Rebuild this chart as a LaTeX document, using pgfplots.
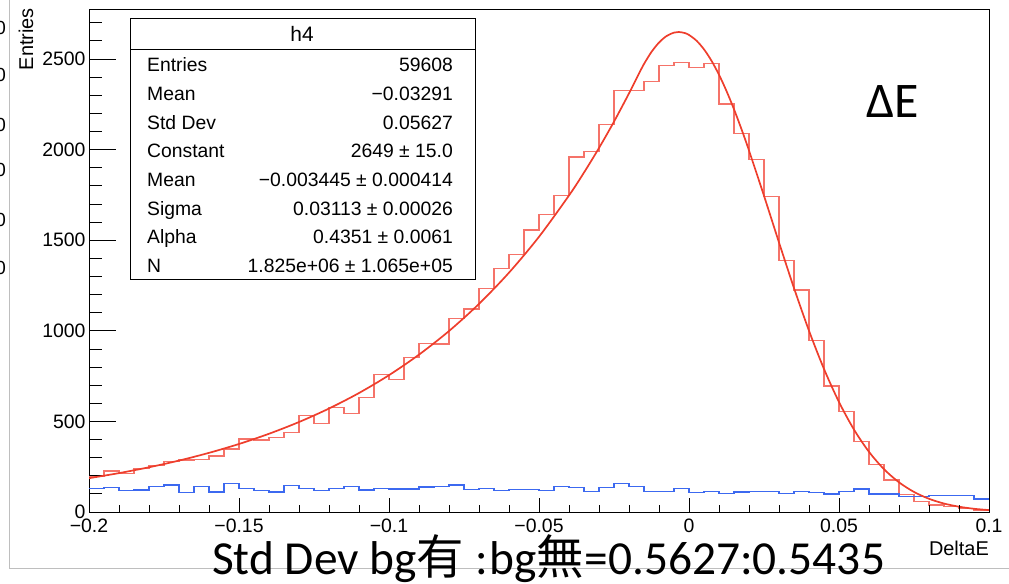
\documentclass[border=0pt]{standalone}
\usepackage{fontspec}
\setmainfont{Liberation Sans}
\newfontfamily\calfont{Carlito}
\newfontfamily\cjk{Noto Sans CJK JP}
\usepackage{pgfplots}
\pgfplotsset{compat=1.18}

\definecolor{histred}{RGB}{245,115,105}
\definecolor{fitred}{RGB}{238,62,44}
\definecolor{histblue}{RGB}{60,105,240}
\definecolor{framegray}{RGB}{190,190,190}

\pgfplotstableread{
x v
-0.200 195
-0.195 226
-0.190 214
-0.185 239
-0.180 256
-0.175 278
-0.170 287
-0.165 291
-0.160 309
-0.155 348
-0.150 403
-0.145 397
-0.140 412
-0.135 438
-0.130 534
-0.125 489
-0.120 576
-0.115 545
-0.110 633
-0.105 757
-0.100 733
-0.095 854
-0.090 931
-0.085 928
-0.080 1069
-0.075 1120
-0.070 1232
-0.065 1343
-0.060 1422
-0.055 1556
-0.050 1643
-0.045 1748
-0.040 1960
-0.035 1990
-0.030 2138
-0.025 2325
-0.020 2325
-0.015 2377
-0.010 2463
-0.005 2480
0.000 2452
0.005 2476
0.010 2252
0.015 2090
0.020 1947
0.025 1740
0.030 1389
0.035 1225
0.040 945
0.045 695
0.050 554
0.055 388
0.060 263
0.065 177
0.070 97
0.075 58
0.080 39
0.085 29
0.090 19
0.095 11
0.100 11
}\redhist

\pgfplotstableread{
x v
-0.200 129
-0.195 134
-0.190 120
-0.185 121
-0.180 142
-0.175 149
-0.170 107
-0.165 142
-0.160 110
-0.155 156
-0.150 129
-0.145 118
-0.140 110
-0.135 147
-0.130 131
-0.125 118
-0.120 131
-0.115 140
-0.110 121
-0.105 131
-0.100 127
-0.095 127
-0.090 138
-0.085 142
-0.080 149
-0.075 123
-0.070 131
-0.065 118
-0.060 125
-0.055 123
-0.050 120
-0.045 140
-0.040 134
-0.035 114
-0.030 134
-0.025 158
-0.020 140
-0.015 114
-0.010 114
-0.005 129
0.000 107
0.005 112
0.010 101
0.015 110
0.020 112
0.025 112
0.030 103
0.035 112
0.040 107
0.045 99
0.050 114
0.055 127
0.060 99
0.065 99
0.070 87
0.075 87
0.080 90
0.085 90
0.090 90
0.095 72
0.100 72
}\bluehist

\pgfplotstableread{
x f
-0.200 186.6
-0.190 214.7
-0.180 246.9
-0.170 283.9
-0.160 326.5
-0.150 375.4
-0.140 431.8
-0.130 496.6
-0.120 571.1
-0.110 656.7
-0.100 755.2
-0.090 868.6
-0.080 998.8
-0.070 1148.6
-0.060 1321.0
-0.050 1519.1
-0.040 1747.0
-0.035 1873.5
-0.030 2009.1
-0.025 2154.5
-0.020 2310.4
-0.01699 2409.7
-0.015 2472.7
-0.0125 2539.3
-0.010 2590.9
-0.0075 2626.6
-0.005 2645.7
-0.003445 2649.0
-0.0015 2643.8
0.000 2632.8
0.0025 2601.1
0.005 2553.3
0.0075 2490.2
0.010 2413.1
0.0125 2323.3
0.015 2222.5
0.0175 2112.4
0.020 1994.9
0.025 1744.9
0.030 1487.4
0.035 1235.7
0.040 1000.3
0.045 789.2
0.050 606.8
0.055 454.6
0.060 332.0
0.065 236.2
0.070 163.8
0.075 110.7
0.080 72.9
0.085 46.8
0.090 29.3
0.095 17.8
0.100 10.6
}\fitcurve

\begin{document}
\begin{tikzpicture}[x=1bp,y=1bp]
\useasboundingbox (0,0) rectangle (1009,-584);
\clip (0,0) rectangle (1009,-584);
\draw[framegray, line width=0.8bp] (9,0) -- (9,-568) -- (1012,-568);
\foreach \yy in {28,75,125,170,220,268}{
  \node[anchor=east, inner sep=0pt, font=\fontsize{19}{19}\selectfont] at (6,-\yy) {0};
}

% y axis + data
\begin{axis}[
  at={(89bp,-512bp)}, anchor=south west, scale only axis,
  width=900bp, height=503bp,
  xmin=-0.2, xmax=0.1, ymin=0, ymax=2776,
  axis line style={black, line width=0.9bp},
  xtick=\empty,
  ytick={0,500,1000,1500,2000,2500},
  yticklabels={0,500,1000,1500,2000,2500},
  minor ytick={100,200,300,400,600,700,800,900,1100,1200,1300,1400,1600,1700,1800,1900,2100,2200,2300,2400,2600,2700},
  ytick pos=left, tick align=inside,
  major tick length=27bp, minor tick length=13bp,
  tick style={black, line width=0.8bp},
  yticklabel style={font=\fontsize{19.5}{19.5}\selectfont},
  clip=true,
]
\addplot[const plot, histred, line width=1.3bp] table[x=x, y=v] {\redhist};
\addplot[const plot, histblue, line width=1.3bp] table[x=x, y=v] {\bluehist};
\addplot[smooth, fitred, line width=1.7bp] table[x=x, y=f] {\fitcurve};
\end{axis}

% x axis ticks
\begin{axis}[
  at={(89bp,-512bp)}, anchor=south west, scale only axis,
  width=900bp, height=503bp,
  xmin=-0.2, xmax=0.1, ymin=0, ymax=2776,
  axis line style={draw=none},
  ytick=\empty,
  xtick={-0.2,-0.15,-0.1,-0.05,0,0.05,0.1},
  xticklabels={−0.2,−0.15,−0.1,−0.05,0,0.05,0.1},
  minor xtick={-0.19,-0.18,-0.17,-0.16,-0.14,-0.13,-0.12,-0.11,-0.09,-0.08,-0.07,-0.06,-0.04,-0.03,-0.02,-0.01,0.01,0.02,0.03,0.04,0.06,0.07,0.08,0.09},
  xtick pos=bottom, tick align=inside,
  major tick length=14bp, minor tick length=7bp,
  tick style={black, line width=0.8bp},
  xticklabel style={font=\fontsize{19.5}{19.5}\selectfont, yshift=-3bp},
]
\end{axis}

% axis titles
\node[anchor=base east, rotate=90, inner sep=0pt, font=\fontsize{20}{20}\selectfont] at (33,-8) {Entries};
\node[anchor=base east, inner sep=0pt, font=\fontsize{20}{20}\selectfont] at (989,-555) {DeltaE};

% stats box
\draw[black, line width=0.9bp, fill=white] (130,-18) rectangle (475,-279);
\draw[black, line width=0.9bp] (130,-49) -- (475,-49);
\node[inner sep=0pt, font=\fontsize{21}{21}\selectfont] at (302,-34) {h4};
\begin{scope}[every node/.style={inner sep=0pt, font=\fontsize{19.4}{19.4}\selectfont}]
\node[anchor=base west] at (147,-71.7) {Entries};
\node[anchor=base east] at (453,-71.7) {59608};
\node[anchor=base west] at (147,-100.4) {Mean};
\node[anchor=base east] at (453,-100.4) {−0.03291};
\node[anchor=base west] at (147,-129.1) {Std Dev};
\node[anchor=base east] at (453,-129.1) {0.05627};
\node[anchor=base west] at (147,-157.8) {Constant};
\node[anchor=base east] at (453,-157.8) {2649 ± 15.0};
\node[anchor=base west] at (147,-186.5) {Mean};
\node[anchor=base east] at (453,-186.5) {−0.003445 ± 0.000414};
\node[anchor=base west] at (147,-215.2) {Sigma};
\node[anchor=base east] at (453,-215.2) {0.03113 ± 0.00026};
\node[anchor=base west] at (147,-243.9) {Alpha};
\node[anchor=base east] at (453,-243.9) {0.4351 ± 0.0061};
\node[anchor=base west] at (147,-272.6) {N};
\node[anchor=base east] at (453,-272.6) {1.825e+06 ± 1.065e+05};
\end{scope}

% slide annotations
\node[anchor=base west, inner sep=0pt, font=\calfont\fontsize{50}{50}\selectfont] at (866,-118) {ΔE};
\node[anchor=base west, inner sep=0pt, font=\calfont\fontsize{47.6}{47.6}\selectfont] at (212,-574) {Std Dev bg{\cjk 有} :\kern2bp bg{\cjk 無}=0.5627:0.5435};
\end{tikzpicture}
\end{document}
